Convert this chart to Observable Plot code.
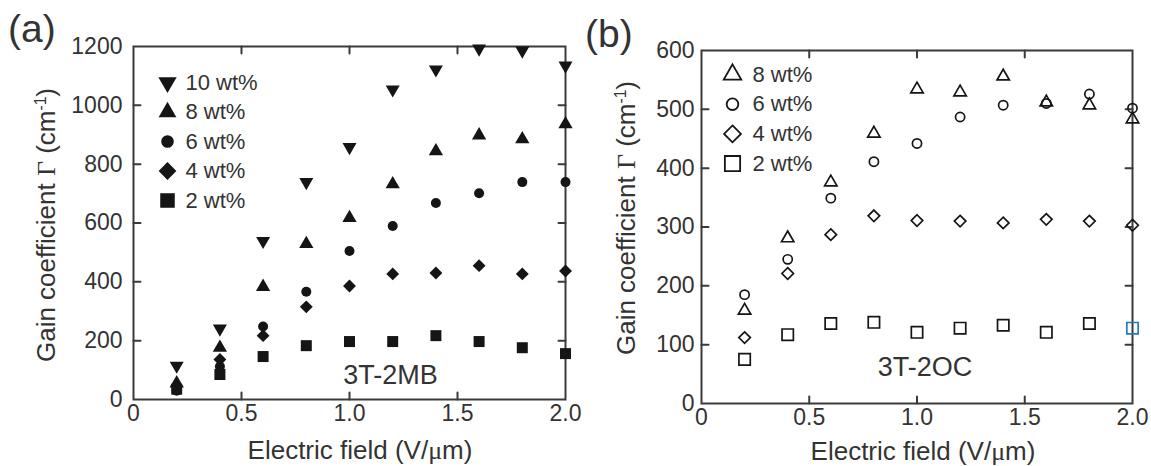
<!DOCTYPE html>
<html><head><meta charset="utf-8">
<script src="https://cdn.jsdelivr.net/npm/d3@7"></script>
<script src="https://cdn.jsdelivr.net/npm/@observablehq/plot@0.6"></script>
<style>
body{margin:0;background:#fff;}
#wrap{position:relative;width:1151px;height:466px;font-family:"Liberation Sans",Arial,sans-serif;color:#333;}
#wrap svg{position:absolute;top:0;}
.abs{position:absolute;white-space:nowrap;}
.ytitle{font-size:26px;line-height:26px;transform:translate(-50%,-50%) rotate(-90deg);}
.xtitle{font-size:26px;line-height:26px;transform:translateX(-50%);}
.serif{font-family:"Liberation Serif","Times New Roman",serif;}
.sup{font-size:0.6em;position:relative;top:-0.55em;}
.panel{font-size:39px;line-height:39px;}
</style></head><body><div id="wrap"></div><script>
// ---------- data ----------
const fieldX = [0.2, 0.4, 0.6, 0.8, 1.0, 1.2, 1.4, 1.6, 1.8, 2.0];

// (a) 3T-2MB, filled symbols
const mbNames = ["10 wt%", "8 wt%", "6 wt%", "4 wt%", "2 wt%"];
const mb10 = [115, 241, 539, 739, 858, 1054, 1122, 1193, 1186, 1135];
const mb8  = [55, 176, 383, 529, 617, 732, 844, 898, 885, 936];
const mb6  = [30, 112, 248, 366, 505, 590, 668, 701, 739, 739];
const mb4  = [45, 136, 217, 315, 386, 427, 430, 455, 427, 437];
const mb2  = [35, 85, 146, 183, 197, 197, 217, 197, 176, 156];

// (b) 3T-2OC, open symbols
const ocNames = ["8 wt%", "6 wt%", "4 wt%", "2 wt%"];
const oc8 = [158, 281, 376, 459, 534, 529, 556, 512, 507, 483];
const oc6 = [185, 245, 349, 411, 442, 487, 507, 510, 526, 502];
const oc4 = [112, 221, 287, 319, 311, 310, 307, 313, 310, 303];
const oc2 = [75, 117, 136, 138, 121, 128, 133, 121, 136, 128];
const highlightX = 2.0; // last 2 wt% point drawn in blue

const xTicks = [0, 0.5, 1.0, 1.5, 2.0];
const xTickLabels = ["0", "0.5", "1.0", "1.5", "2.0"];
const yTicksA = [0, 200, 400, 600, 800, 1000, 1200];
const yTickLabelsA = ["0", "200", "400", "600", "800", "1000", "1200"];
const yTicksB = [0, 100, 200, 300, 400, 500, 600];
const yTickLabelsB = ["0", "100", "200", "300", "400", "500", "600"];
const innerXTicks = [0.5, 1.0, 1.5];
const innerYTicksA = [200, 400, 600, 800, 1000];
const innerYTicksB = [100, 200, 300, 400, 500];

// ---------- helpers ----------
const INK = "#151515", AXIS = "#3a3a3a", TXT = "#333";
const FONT = "Liberation Sans, Arial, sans-serif";
const sqrt3 = Math.sqrt(3);
const triangleDown = {
  draw(ctx, size) {
    const y = -Math.sqrt(size / (sqrt3 * 3));
    ctx.moveTo(0, -y * 2);
    ctx.lineTo(-sqrt3 * y, y);
    ctx.lineTo(sqrt3 * y, y);
    ctx.closePath();
  }
};
const tickShape = {draw(ctx, l) { ctx.moveTo(0, 0); ctx.lineTo(0, -l); }};
const pts = vals => fieldX.map((x, i) => ({x, y: vals[i]}));

function innerTicks(xt, yt) {
  const o = {length: 7, anchor: "start", shape: tickShape, stroke: AXIS, strokeWidth: 2};
  return [
    Plot.vector(yt, {...o, y: d => d, frameAnchor: "left", rotate: 90}),
    Plot.vector(yt, {...o, y: d => d, frameAnchor: "right", rotate: -90}),
    Plot.vector(xt, {...o, x: d => d, frameAnchor: "bottom", rotate: 0}),
    Plot.vector(xt, {...o, x: d => d, frameAnchor: "top", rotate: 180})
  ];
}

function panel({width, ml, mr, mt, mb, yDomain, yTicks, yLabels, yInner, yPad, series, legend, annotation}) {
  const marks = [
    Plot.axisX({ticks: xTicks, tickFormat: d => xTickLabels[xTicks.indexOf(d)], tickSize: 0, tickPadding: 5,
      fontSize: 23, color: TXT, label: null, fontFamily: FONT}),
    Plot.axisY({ticks: yTicks, tickFormat: d => yLabels[yTicks.indexOf(d)], tickSize: 0, tickPadding: yPad,
      fontSize: 23, color: TXT, label: null, fontFamily: FONT}),
    ...innerTicks(innerXTicks, yInner),
    Plot.frame({stroke: AXIS, strokeWidth: 2})
  ];
  series.forEach(s => {
    marks.push(Plot.dot(pts(s.values), {x: "x", y: "y", symbol: s.symbol, r: s.r,
      fill: s.open ? "none" : INK,
      stroke: s.open ? (s.highlight ? (d => d.x === highlightX ? "#1f7bc0" : INK) : INK) : "none",
      strokeWidth: 1.7}));
  });
  series.forEach((s, i) => {
    marks.push(Plot.dot([s.name], {frameAnchor: "top-left", dx: legend.mx, dy: legend.dy0 + i * legend.step,
      symbol: s.symbol, r: s.lr, fill: s.open ? "none" : INK, stroke: s.open ? INK : "none", strokeWidth: 1.8}));
    marks.push(Plot.text([s.name], {frameAnchor: "top-left", lineAnchor: "middle", dx: legend.tx,
      dy: legend.dy0 + i * legend.step, text: d => d, textAnchor: "start", fontSize: 22, fill: TXT, fontFamily: FONT}));
  });
  marks.push(Plot.text([annotation.text], {frameAnchor: "bottom", lineAnchor: "middle", dx: annotation.dx, dy: annotation.dy,
    text: d => d, fontSize: 27, fill: TXT, fontFamily: FONT}));
  return Plot.plot({
    width, height: 466, marginLeft: ml, marginRight: mr, marginTop: mt, marginBottom: mb,
    x: {domain: [0, 2]}, y: {domain: yDomain},
    style: {background: "transparent", overflow: "visible"},
    marks
  });
}

const wrap = document.getElementById("wrap");

const left = panel({
  width: 575, ml: 133, mr: 10, mt: 46, mb: 67, yDomain: [0, 1200], yTicks: yTicksA, yLabels: yTickLabelsA,
  yInner: innerYTicksA, yPad: 11,
  series: [
    {name: mbNames[0], values: mb10, symbol: triangleDown, r: 5.2, lr: 6.8},
    {name: mbNames[1], values: mb8, symbol: "triangle", r: 5.3, lr: 6.6},
    {name: mbNames[2], values: mb6, symbol: "circle", r: 5, lr: 6.3},
    {name: mbNames[3], values: mb4, symbol: "diamond2", r: 5.8, lr: 8},
    {name: mbNames[4], values: mb2, symbol: "square", r: 6.2, lr: 8.2}
  ],
  legend: {mx: 34, tx: 52, dy0: 36, step: 29.5},
  annotation: {text: "3T-2MB", dx: 41, dy: -24}
});
left.style.left = "0px";
wrap.appendChild(left);

const right = panel({
  width: 576, ml: 126, mr: 19, mt: 50, mb: 63, yDomain: [0, 600], yTicks: yTicksB, yLabels: yTickLabelsB,
  yInner: innerYTicksB, yPad: 7,
  series: [
    {name: ocNames[0], values: oc8, symbol: "triangle", r: 4.6, lr: 6.5, open: true},
    {name: ocNames[1], values: oc6, symbol: "circle", r: 4.6, lr: 5.8, open: true},
    {name: ocNames[2], values: oc4, symbol: "diamond2", r: 5.2, lr: 7.6, open: true},
    {name: ocNames[3], values: oc2, symbol: "square", r: 6.4, lr: 8.6, open: true, highlight: true}
  ],
  legend: {mx: 31, tx: 51, dy0: 24, step: 29.7},
  annotation: {text: "3T-2OC", dx: 8, dy: -36}
});
right.style.left = "575px";
wrap.appendChild(right);

function addText(html, cls, left, top) {
  const d = document.createElement("div");
  d.className = "abs " + cls;
  d.style.left = left + "px";
  d.style.top = top + "px";
  d.innerHTML = html;
  wrap.appendChild(d);
}
const yTitle = 'Gain coefficient <span class="serif">Γ</span> (cm<span class="sup">-1</span>)';
const xTitle = 'Electric field (V/<span class="serif">μ</span>m)';
addText(yTitle, "ytitle", 48, 225);
addText(yTitle, "ytitle", 628, 218);
addText(xTitle, "xtitle", 360, 437);
addText(xTitle, "xtitle", 923, 438);
addText("(a)", "panel", 8, 9);
addText("(b)", "panel", 585, 14);
</script></body></html>
